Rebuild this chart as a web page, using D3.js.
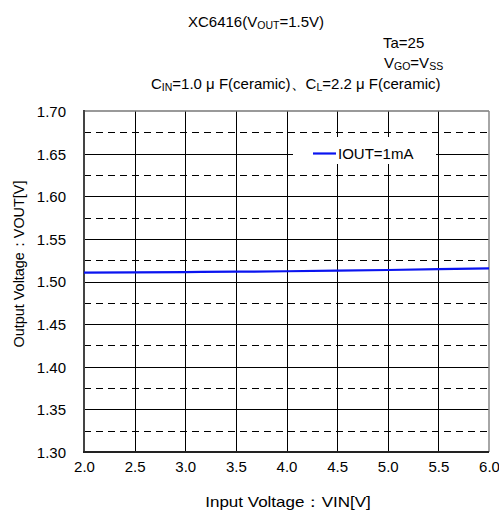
<!DOCTYPE html>
<html><head><meta charset="utf-8">
<script src="https://cdn.jsdelivr.net/npm/d3@7"></script>
<style>
body{margin:0;background:#fff;}
text{font-family:"Liberation Sans",Arial,sans-serif;fill:#000;}
</style></head>
<body><svg id="c" width="499" height="514"></svg>
<script>
const vin = [2.0, 2.5, 3.0, 3.5, 4.0, 4.5, 5.0, 5.5, 6.0];
const vout = [1.5103, 1.5107, 1.5111, 1.5115, 1.5120, 1.5127, 1.5135, 1.5144, 1.5155];
const xTicks = [2.0, 2.5, 3.0, 3.5, 4.0, 4.5, 5.0, 5.5, 6.0];
const yTicks = [1.30, 1.35, 1.40, 1.45, 1.50, 1.55, 1.60, 1.65, 1.70];
const yMinor = [1.325, 1.375, 1.425, 1.475, 1.525, 1.575, 1.625, 1.675];
const seriesName = "IOUT=1mA";

const FS = 15;
const svg = d3.select("#c");
const L = 84, R = 489, T = 111, B = 452;
const x = d3.scaleLinear().domain([2.0, 6.0]).range([L, R]);
const y = d3.scaleLinear().domain([1.30, 1.70]).range([B, T]);

// grid: vertical
svg.append("g").selectAll("line").data(xTicks.slice(1, -1)).join("line")
  .attr("x1", d => Math.round(x(d)) + 0.5).attr("x2", d => Math.round(x(d)) + 0.5)
  .attr("y1", T).attr("y2", B).attr("stroke", "#000").attr("stroke-width", 1);
// grid: horizontal solid
svg.append("g").selectAll("line").data(yTicks.slice(1, -1)).join("line")
  .attr("y1", d => Math.round(y(d)) + 0.5).attr("y2", d => Math.round(y(d)) + 0.5)
  .attr("x1", L).attr("x2", R).attr("stroke", "#000").attr("stroke-width", 1);
// grid: horizontal dashed
svg.append("g").selectAll("line").data(yMinor).join("line")
  .attr("y1", d => Math.round(y(d)) + 0.5).attr("y2", d => Math.round(y(d)) + 0.5)
  .attr("x1", L).attr("x2", R).attr("stroke", "#000").attr("stroke-width", 1)
  .attr("stroke-dasharray", "7,5");

// frame
svg.append("line").attr("x1", L).attr("x2", R).attr("y1", T).attr("y2", T)
  .attr("stroke", "#777").attr("stroke-width", 1.5);
svg.append("line").attr("x1", R).attr("x2", R).attr("y1", T).attr("y2", B)
  .attr("stroke", "#888").attr("stroke-width", 1.5);
svg.append("line").attr("x1", L).attr("x2", L).attr("y1", T - 1).attr("y2", B + 1)
  .attr("stroke", "#444").attr("stroke-width", 2);
svg.append("line").attr("x1", L - 1).attr("x2", R).attr("y1", B).attr("y2", B)
  .attr("stroke", "#222").attr("stroke-width", 2);

// axes labels (tick text via d3 axes, no domain/ticks lines)
const xa = svg.append("g").attr("transform", `translate(0,${B})`)
  .call(d3.axisBottom(x).tickValues(xTicks).tickFormat(d3.format(".1f")).tickSize(0).tickPadding(9));
const ya = svg.append("g").attr("transform", `translate(${L},0)`)
  .call(d3.axisLeft(y).tickValues(yTicks).tickFormat(d3.format(".2f")).tickSize(0).tickPadding(18));
[xa, ya].forEach(a => {
  a.select(".domain").remove();
  a.selectAll("text").attr("font-size", FS).attr("font-family", '"Liberation Sans",Arial,sans-serif').attr("fill", "#000");
});
ya.selectAll("text").attr("dy", "0.36em");

// series line
svg.append("path").datum(vin.map((v, i) => [v, vout[i]]))
  .attr("d", d3.line().x(d => x(d[0])).y(d => y(d[1])).curve(d3.curveMonotoneX))
  .attr("fill", "none").attr("stroke", "#0a14f0").attr("stroke-width", 2.2);

// legend
svg.append("rect").attr("x", 293).attr("y", 137).attr("width", 143).attr("height", 27).attr("fill", "#fff");
svg.append("line").attr("x1", 313).attr("x2", 336).attr("y1", 153.5).attr("y2", 153.5)
  .attr("stroke", "#0a14f0").attr("stroke-width", 2.2);
svg.append("text").attr("x", 338).attr("y", 159).attr("font-size", FS).text(seriesName);

// axis titles (stretched horizontally to match the wider original glyphs)
function stretched(g, label, target) {
  const t = g.append("text").attr("text-anchor", "middle").attr("font-size", 14.5).text(label);
  const w = t.node().getComputedTextLength();
  t.attr("transform", `scale(${target / w},1)`);
}
stretched(svg.append("g").attr("transform", "translate(288,507)"), "Input Voltage：VIN[V]", 166);
stretched(svg.append("g").attr("transform", "translate(24,264) rotate(-90)"), "Output Voltage：VOUT[V]", 168);

// header texts
function sub(t, parts, fs) {
  parts.forEach(p => {
    const ts = t.append("tspan").text(p[0]);
    if (p[1]) ts.attr("font-size", fs * 0.7).attr("baseline-shift", "-22%");
  });
}
const t1 = svg.append("text").attr("x", 188).attr("y", 27).attr("font-size", FS);
sub(t1, [["XC6416(V"], ["OUT", 1], ["=1.5V)"]], FS);
svg.append("text").attr("x", 383).attr("y", 48).attr("font-size", FS).text("Ta=25");
const t3 = svg.append("text").attr("x", 384).attr("y", 68).attr("font-size", FS);
sub(t3, [["V"], ["GO", 1], ["=V"], ["SS", 1]], FS);
const t4 = svg.append("text").attr("x", 151).attr("y", 89).attr("font-size", FS);
sub(t4, [["C"], ["IN", 1], ["=1.0 μ F(ceramic)、C"], ["L", 1], ["=2.2 μ F(ceramic)"]], FS);
</script></body></html>
